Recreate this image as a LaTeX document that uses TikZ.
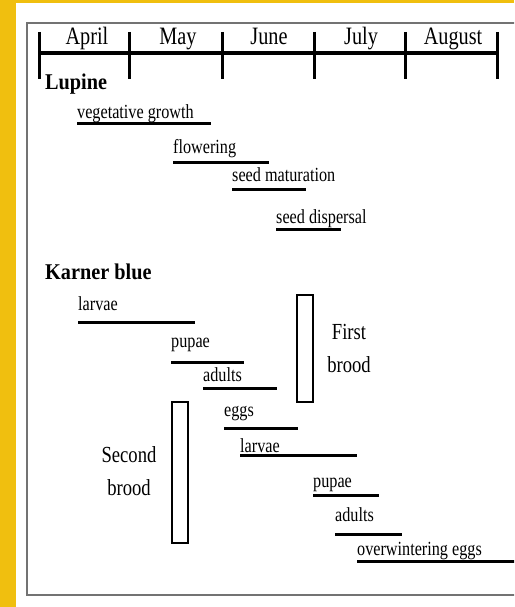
\documentclass[tikz,border=0pt]{standalone}
\usepackage{fontspec}
\setmainfont[FakeStretch=0.81]{Liberation Serif}
\newfontfamily\titlefont[FakeStretch=0.9]{Liberation Serif}
\definecolor{sideyellow}{rgb}{0.94,0.75,0.06}
\definecolor{framegray}{RGB}{115,115,115}
\begin{document}
\begin{tikzpicture}[x=1pt,y=-1pt,
  lbl/.style={anchor=base west, inner sep=0pt, font=\fontsize{20}{22}\selectfont},
  month/.style={anchor=base, inner sep=0pt, font=\fontsize{25}{27}\selectfont},
  ttl/.style={anchor=base west, inner sep=0pt, font=\titlefont\bfseries\fontsize{22.5}{24}\selectfont},
  brood/.style={anchor=base, inner sep=0pt, font=\fontsize{23}{25}\selectfont},
  bar/.style={line width=3pt},
  tick/.style={line width=3pt},
  brect/.style={draw, line width=2.5pt}]
\useasboundingbox (0,0) rectangle (514,607);
\clip (0,0) rectangle (514,607);
\fill[white] (0,0) rectangle (514,607);
\fill[sideyellow] (0,0) rectangle (16,607);
\fill[sideyellow] (0,0) rectangle (514,3);
\draw[framegray, line width=1.5pt] (27,23) rectangle (540,595);
% timeline
\draw[line width=4pt] (39,53) -- (497,53);
\foreach \x in {39,129,222,314,405,497} \draw[tick] (\x,32) -- (\x,79);
\node[month] (apr) at (87,45) {April};
\node[month] (may) at (178,45) {May};
\node[month] (jun) at (269,45) {June};
\node[month] (jul) at (361,45) {July};
\node[month] (aug) at (453,45) {August};
% Lupine
\node[ttl] (lupine) at (45,90) {Lupine};
\node[lbl] (vg) at (77,118) {vegetative growth};
\draw[bar] (77,123) -- (211,123);
\node[lbl] (fl) at (173,153) {flowering};
\draw[bar] (173,162) -- (269,162);
\node[lbl] (sm) at (232,181) {seed maturation};
\draw[bar] (232,189) -- (306,189);
\node[lbl] (sd) at (276,223) {seed dispersal};
\draw[bar] (276,229) -- (341,229);
% Karner blue
\node[ttl] (karner) at (45,279) {Karner blue};
\node[lbl] (l1) at (78,310) {larvae};
\draw[bar] (78,322) -- (195,322);
\node[lbl] (p1) at (171,347) {pupae};
\draw[bar] (171,362) -- (244,362);
\node[lbl] (a1) at (203,381) {adults};
\draw[bar] (203,388) -- (277,388);
\node[lbl] (e1) at (224,416) {eggs};
\draw[bar] (224,428) -- (298,428);
\node[lbl] (l2) at (240,452) {larvae};
\draw[bar] (240,455) -- (357,455);
\node[lbl] (p2) at (313,487) {pupae};
\draw[bar] (313,495) -- (379,495);
\node[lbl] (a2) at (335,521) {adults};
\draw[bar] (335,534) -- (402,534);
\node[lbl] (ow) at (357,555) {overwintering eggs};
\draw[bar] (357,561) -- (520,561);
% broods
\draw[brect] (297,295) rectangle (313,402);
\node[brood] (first) at (349,339) {First};
\node[brood] (fbrood) at (349,372) {brood};
\draw[brect] (172,402) rectangle (188,543);
\node[brood] (second) at (129,462) {Second};
\node[brood] (sbrood) at (129,495) {brood};
\end{tikzpicture}
\end{document}
